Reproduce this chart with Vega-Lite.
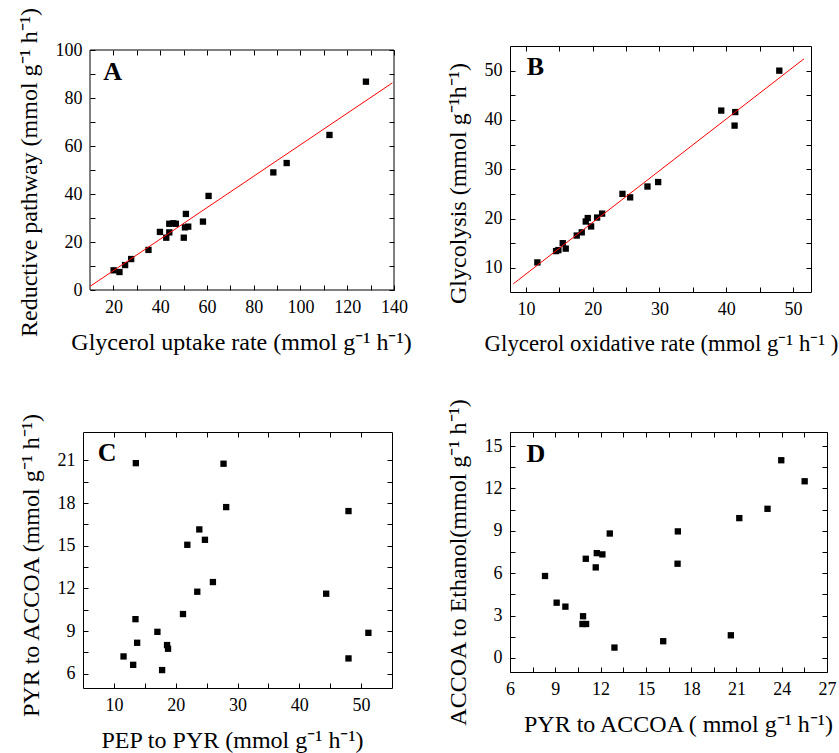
{
  "$schema": "https://vega.github.io/schema/vega-lite/v6.json",
  "padding": {"left": 16, "top": 7, "right": 2, "bottom": 2},
  "bounds": "flush",
  "columns": 2,
  "spacing": {"row": 140, "column": 116},
  "concat": [
    {
      "width": 311,
      "height": 244,
      "resolve": {"axis": {"x": "independent", "y": "independent"}},
      "layer": [
        {
          "data": {"values": [
            {"x": 20.1, "y": 8.2}, {"x": 22.6, "y": 7.5}, {"x": 25.0, "y": 10.4}, {"x": 27.6, "y": 12.9},
            {"x": 35.0, "y": 16.7}, {"x": 39.9, "y": 24.2}, {"x": 42.6, "y": 21.8}, {"x": 43.9, "y": 24.0},
            {"x": 43.9, "y": 27.6}, {"x": 45.6, "y": 27.8}, {"x": 46.7, "y": 27.6}, {"x": 50.1, "y": 21.8},
            {"x": 50.6, "y": 26.1}, {"x": 52.0, "y": 26.4}, {"x": 51.0, "y": 31.7}, {"x": 58.3, "y": 28.5},
            {"x": 60.7, "y": 39.2}, {"x": 88.4, "y": 49.0}, {"x": 94.1, "y": 52.9}, {"x": 112.4, "y": 64.6},
            {"x": 128.0, "y": 86.8}
          ]},
          "mark": {"type": "square", "color": "black", "size": 40, "opacity": 1},
          "encoding": {
            "x": {"field": "x", "type": "quantitative", "scale": {"domain": [7, 140], "nice": false, "zero": false},
              "axis": {"orient": "bottom", "domain": false, "values": [20, 30, 40, 50, 60, 70, 80, 90, 100, 110, 120, 130, 140], "labelExpr": "datum.value % 20 === 0 ? datum.label : ''", "title": "Glycerol uptake rate (mmol g⁻¹ h⁻¹)", "titleX": 158}},
            "y": {"field": "y", "type": "quantitative", "scale": {"domain": [0, 101.667], "nice": false, "zero": false},
              "axis": {"orient": "left", "offset": -7, "domain": false, "values": [0, 10, 20, 30, 40, 50, 60, 70, 80, 90, 100], "labelExpr": "datum.value % 20 === 0 ? datum.label : ''", "title": "Reductive pathway (mmol g⁻¹ h⁻¹)", "titleY": 126}}
          }
        },
        {
          "data": {"values": [{"label": "A", "x": 15.7, "y": 87.5}]},
          "mark": {"type": "text", "font": "Liberation Serif", "fontSize": 26, "fontWeight": "bold", "align": "left", "baseline": "alphabetic", "color": "black"},
          "encoding": {
            "x": {"field": "x", "type": "quantitative", "scale": {"domain": [7, 140], "nice": false, "zero": false},
              "axis": {"orient": "top", "offset": -4, "domain": false, "values": [20, 30, 40, 50, 60, 70, 80, 90, 100, 110, 120, 130, 140], "labels": false, "title": null}},
            "y": {"field": "y", "type": "quantitative", "scale": {"domain": [0, 101.667], "nice": false, "zero": false},
              "axis": {"orient": "right", "domain": false, "values": [0, 10, 20, 30, 40, 50, 60, 70, 80, 90, 100], "labels": false, "title": null}},
            "text": {"field": "label"}
          }
        },
        {
          "data": {"values": [{"x": 10, "x2": 140, "y": 0, "y2": 100}]},
          "mark": {"type": "rect", "fill": null, "fillOpacity": 0, "stroke": "black", "strokeWidth": 1},
          "encoding": {
            "x": {"field": "x", "type": "quantitative", "scale": {"domain": [7, 140], "nice": false, "zero": false}, "axis": null},
            "y": {"field": "y", "type": "quantitative", "scale": {"domain": [0, 101.667], "nice": false, "zero": false}, "axis": null},
            "x2": {"field": "x2"},
            "y2": {"field": "y2"}
          }
        },
        {
          "data": {"values": [{"x": 10, "y": 1.5, "x2": 139.3, "y2": 86.3}]},
          "mark": {"type": "rule", "color": "#ff0000", "strokeWidth": 1},
          "encoding": {
            "x": {"field": "x", "type": "quantitative", "scale": {"domain": [7, 140], "nice": false, "zero": false}, "axis": null},
            "y": {"field": "y", "type": "quantitative", "scale": {"domain": [0, 101.667], "nice": false, "zero": false}, "axis": null},
            "x2": {"field": "x2"},
            "y2": {"field": "y2"}
          }
        }
      ]
    },
    {
      "width": 301,
      "height": 246,
      "resolve": {"axis": {"x": "independent", "y": "independent"}},
      "layer": [
        {
          "data": {"values": [
            {"x": 11.7, "y": 11.1}, {"x": 14.5, "y": 13.4}, {"x": 14.85, "y": 13.6}, {"x": 15.5, "y": 15.0},
            {"x": 15.95, "y": 13.9}, {"x": 17.6, "y": 16.55}, {"x": 18.35, "y": 17.2}, {"x": 18.95, "y": 19.4},
            {"x": 19.25, "y": 20.1}, {"x": 19.75, "y": 18.4}, {"x": 20.65, "y": 20.2}, {"x": 21.4, "y": 21.0},
            {"x": 24.45, "y": 25.0}, {"x": 25.6, "y": 24.3}, {"x": 28.2, "y": 26.5}, {"x": 29.8, "y": 27.4},
            {"x": 39.25, "y": 41.9}, {"x": 41.35, "y": 41.6}, {"x": 41.25, "y": 38.85}, {"x": 47.95, "y": 50.0}
          ]},
          "mark": {"type": "square", "color": "black", "size": 40, "opacity": 1},
          "encoding": {
            "x": {"field": "x", "type": "quantitative", "scale": {"domain": [7.6, 52.7], "nice": false, "zero": false},
              "axis": {"orient": "bottom", "values": [10, 15, 20, 25, 30, 35, 40, 45, 50], "labelExpr": "datum.value % 10 === 0 ? datum.label : ''", "title": "Glycerol oxidative rate (mmol g⁻¹ h⁻¹ )", "titleFontSize": 22.8, "titleX": 151}},
            "y": {"field": "y", "type": "quantitative", "scale": {"domain": [5.1, 55], "nice": false, "zero": false},
              "axis": {"orient": "left", "values": [10, 15, 20, 25, 30, 35, 40, 45, 50], "labelExpr": "datum.value % 10 === 0 ? datum.label : ''", "title": "Glycolysis (mmol g⁻¹h⁻¹)", "titleY": 137}}
          }
        },
        {
          "data": {"values": [{"label": "B", "x": 10.1, "y": 49.2}]},
          "mark": {"type": "text", "font": "Liberation Serif", "fontSize": 26, "fontWeight": "bold", "align": "left", "baseline": "alphabetic", "color": "black"},
          "encoding": {
            "x": {"field": "x", "type": "quantitative", "scale": {"domain": [7.6, 52.7], "nice": false, "zero": false},
              "axis": {"orient": "top", "values": [10, 15, 20, 25, 30, 35, 40, 45, 50], "labels": false, "title": null}},
            "y": {"field": "y", "type": "quantitative", "scale": {"domain": [5.1, 55], "nice": false, "zero": false},
              "axis": {"orient": "right", "values": [10, 15, 20, 25, 30, 35, 40, 45, 50], "labels": false, "title": null}},
            "text": {"field": "label"}
          }
        },
        {
          "data": {"values": [{"x": 8.1, "y": 6.76, "x2": 51.65, "y2": 52.4}]},
          "mark": {"type": "rule", "color": "#ff0000", "strokeWidth": 1},
          "encoding": {
            "x": {"field": "x", "type": "quantitative", "scale": {"domain": [7.6, 52.7], "nice": false, "zero": false}, "axis": null},
            "y": {"field": "y", "type": "quantitative", "scale": {"domain": [5.1, 55], "nice": false, "zero": false}, "axis": null},
            "x2": {"field": "x2"},
            "y2": {"field": "y2"}
          }
        }
      ]
    },
    {
      "width": 309,
      "height": 256,
      "resolve": {"axis": {"x": "independent", "y": "independent"}},
      "layer": [
        {
          "data": {"values": [
            {"x": 13.55, "y": 20.81}, {"x": 27.74, "y": 20.77}, {"x": 28.17, "y": 17.72}, {"x": 47.96, "y": 17.44},
            {"x": 23.82, "y": 16.15}, {"x": 24.73, "y": 15.42}, {"x": 21.88, "y": 15.07}, {"x": 26.02, "y": 12.45},
            {"x": 23.49, "y": 11.77}, {"x": 44.35, "y": 11.63}, {"x": 21.18, "y": 10.2}, {"x": 13.49, "y": 9.84},
            {"x": 17.04, "y": 8.95}, {"x": 51.18, "y": 8.88}, {"x": 13.76, "y": 8.18}, {"x": 18.6, "y": 8.02},
            {"x": 18.76, "y": 7.76}, {"x": 11.56, "y": 7.22}, {"x": 13.12, "y": 6.63}, {"x": 47.96, "y": 7.08},
            {"x": 17.8, "y": 6.26}
          ]},
          "mark": {"type": "square", "color": "black", "size": 40, "opacity": 1},
          "encoding": {
            "x": {"field": "x", "type": "quantitative", "scale": {"domain": [5, 55], "nice": false, "zero": false},
              "axis": {"orient": "bottom", "values": [10, 15, 20, 25, 30, 35, 40, 45, 50], "labelExpr": "datum.value % 10 === 0 ? datum.label : ''", "title": "PEP to PYR (mmol g⁻¹ h⁻¹)", "titleX": 149}},
            "y": {"field": "y", "type": "quantitative", "scale": {"domain": [5, 23], "nice": false, "zero": false},
              "axis": {"orient": "left", "values": [6, 7.5, 9, 10.5, 12, 13.5, 15, 16.5, 18, 19.5, 21], "labelExpr": "datum.value % 3 === 0 ? datum.label : ''", "title": "PYR to ACCOA (mmol g⁻¹ h⁻¹)", "titleY": 133}}
          }
        },
        {
          "data": {"values": [{"label": "C", "x": 7.37, "y": 20.95}]},
          "mark": {"type": "text", "font": "Liberation Serif", "fontSize": 26, "fontWeight": "bold", "align": "left", "baseline": "alphabetic", "color": "black"},
          "encoding": {
            "x": {"field": "x", "type": "quantitative", "scale": {"domain": [5, 55], "nice": false, "zero": false},
              "axis": {"orient": "top", "values": [10, 15, 20, 25, 30, 35, 40, 45, 50], "labels": false, "title": null}},
            "y": {"field": "y", "type": "quantitative", "scale": {"domain": [5, 23], "nice": false, "zero": false},
              "axis": {"orient": "right", "values": [6, 7.5, 9, 10.5, 12, 13.5, 15, 16.5, 18, 19.5, 21], "labels": false, "title": null}},
            "text": {"field": "label"}
          }
        }
      ]
    },
    {
      "width": 317,
      "height": 240,
      "resolve": {"axis": {"x": "independent", "y": "independent"}},
      "layer": [
        {
          "data": {"values": [
            {"x": 8.32, "y": 5.8}, {"x": 9.09, "y": 3.91}, {"x": 9.67, "y": 3.63}, {"x": 10.84, "y": 2.95},
            {"x": 10.8, "y": 2.4}, {"x": 11.04, "y": 2.4}, {"x": 11.02, "y": 7.02}, {"x": 11.68, "y": 6.41},
            {"x": 11.75, "y": 7.42}, {"x": 12.12, "y": 7.33}, {"x": 12.61, "y": 8.81}, {"x": 12.92, "y": 0.73},
            {"x": 16.15, "y": 1.18}, {"x": 17.12, "y": 8.96}, {"x": 17.1, "y": 6.67}, {"x": 20.63, "y": 1.6},
            {"x": 21.19, "y": 9.9}, {"x": 23.06, "y": 10.56}, {"x": 23.97, "y": 14.0}, {"x": 25.52, "y": 12.51}
          ]},
          "mark": {"type": "square", "color": "black", "size": 40, "opacity": 1},
          "encoding": {
            "x": {"field": "x", "type": "quantitative", "scale": {"domain": [6, 27], "nice": false, "zero": false},
              "axis": {"orient": "bottom", "values": [6, 7.5, 9, 10.5, 12, 13.5, 15, 16.5, 18, 19.5, 21, 22.5, 24, 25.5, 27], "labelExpr": "datum.value % 3 === 0 ? datum.label : ''", "title": "PYR to ACCOA ( mmol g⁻¹ h⁻¹)", "titleX": 168}},
            "y": {"field": "y", "type": "quantitative", "scale": {"domain": [-1, 16], "nice": false, "zero": false},
              "axis": {"orient": "left", "values": [0, 1.5, 3, 4.5, 6, 7.5, 9, 10.5, 12, 13.5, 15], "labelExpr": "datum.value % 3 === 0 ? datum.label : ''", "title": "ACCOA to Ethanol(mmol g⁻¹ h⁻¹)", "titleY": 130}}
          }
        },
        {
          "data": {"values": [{"label": "D", "x": 7.1, "y": 13.86}]},
          "mark": {"type": "text", "font": "Liberation Serif", "fontSize": 26, "fontWeight": "bold", "align": "left", "baseline": "alphabetic", "color": "black"},
          "encoding": {
            "x": {"field": "x", "type": "quantitative", "scale": {"domain": [6, 27], "nice": false, "zero": false},
              "axis": {"orient": "top", "values": [6, 7.5, 9, 10.5, 12, 13.5, 15, 16.5, 18, 19.5, 21, 22.5, 24, 25.5, 27], "labels": false, "title": null}},
            "y": {"field": "y", "type": "quantitative", "scale": {"domain": [-1, 16], "nice": false, "zero": false},
              "axis": {"orient": "right", "values": [0, 1.5, 3, 4.5, 6, 7.5, 9, 10.5, 12, 13.5, 15], "labels": false, "title": null}},
            "text": {"field": "label"}
          }
        }
      ]
    }
  ],
  "config": {
    "view": {"stroke": null},
    "font": "Liberation Serif",
    "axis": {
      "grid": false,
      "domainColor": "black",
      "domainWidth": 1,
      "tickColor": "black",
      "tickWidth": 1,
      "tickSize": -5,
      "labelFont": "Liberation Serif",
      "labelFontSize": 18,
      "labelColor": "black",
      "labelPadding": 13,
      "labelFlush": false,
      "labelOverlap": false,
      "titleFont": "Liberation Serif",
      "titleFontSize": 24,
      "titleFontWeight": "normal",
      "titleColor": "black",
      "titlePadding": 14
    }
  }
}
